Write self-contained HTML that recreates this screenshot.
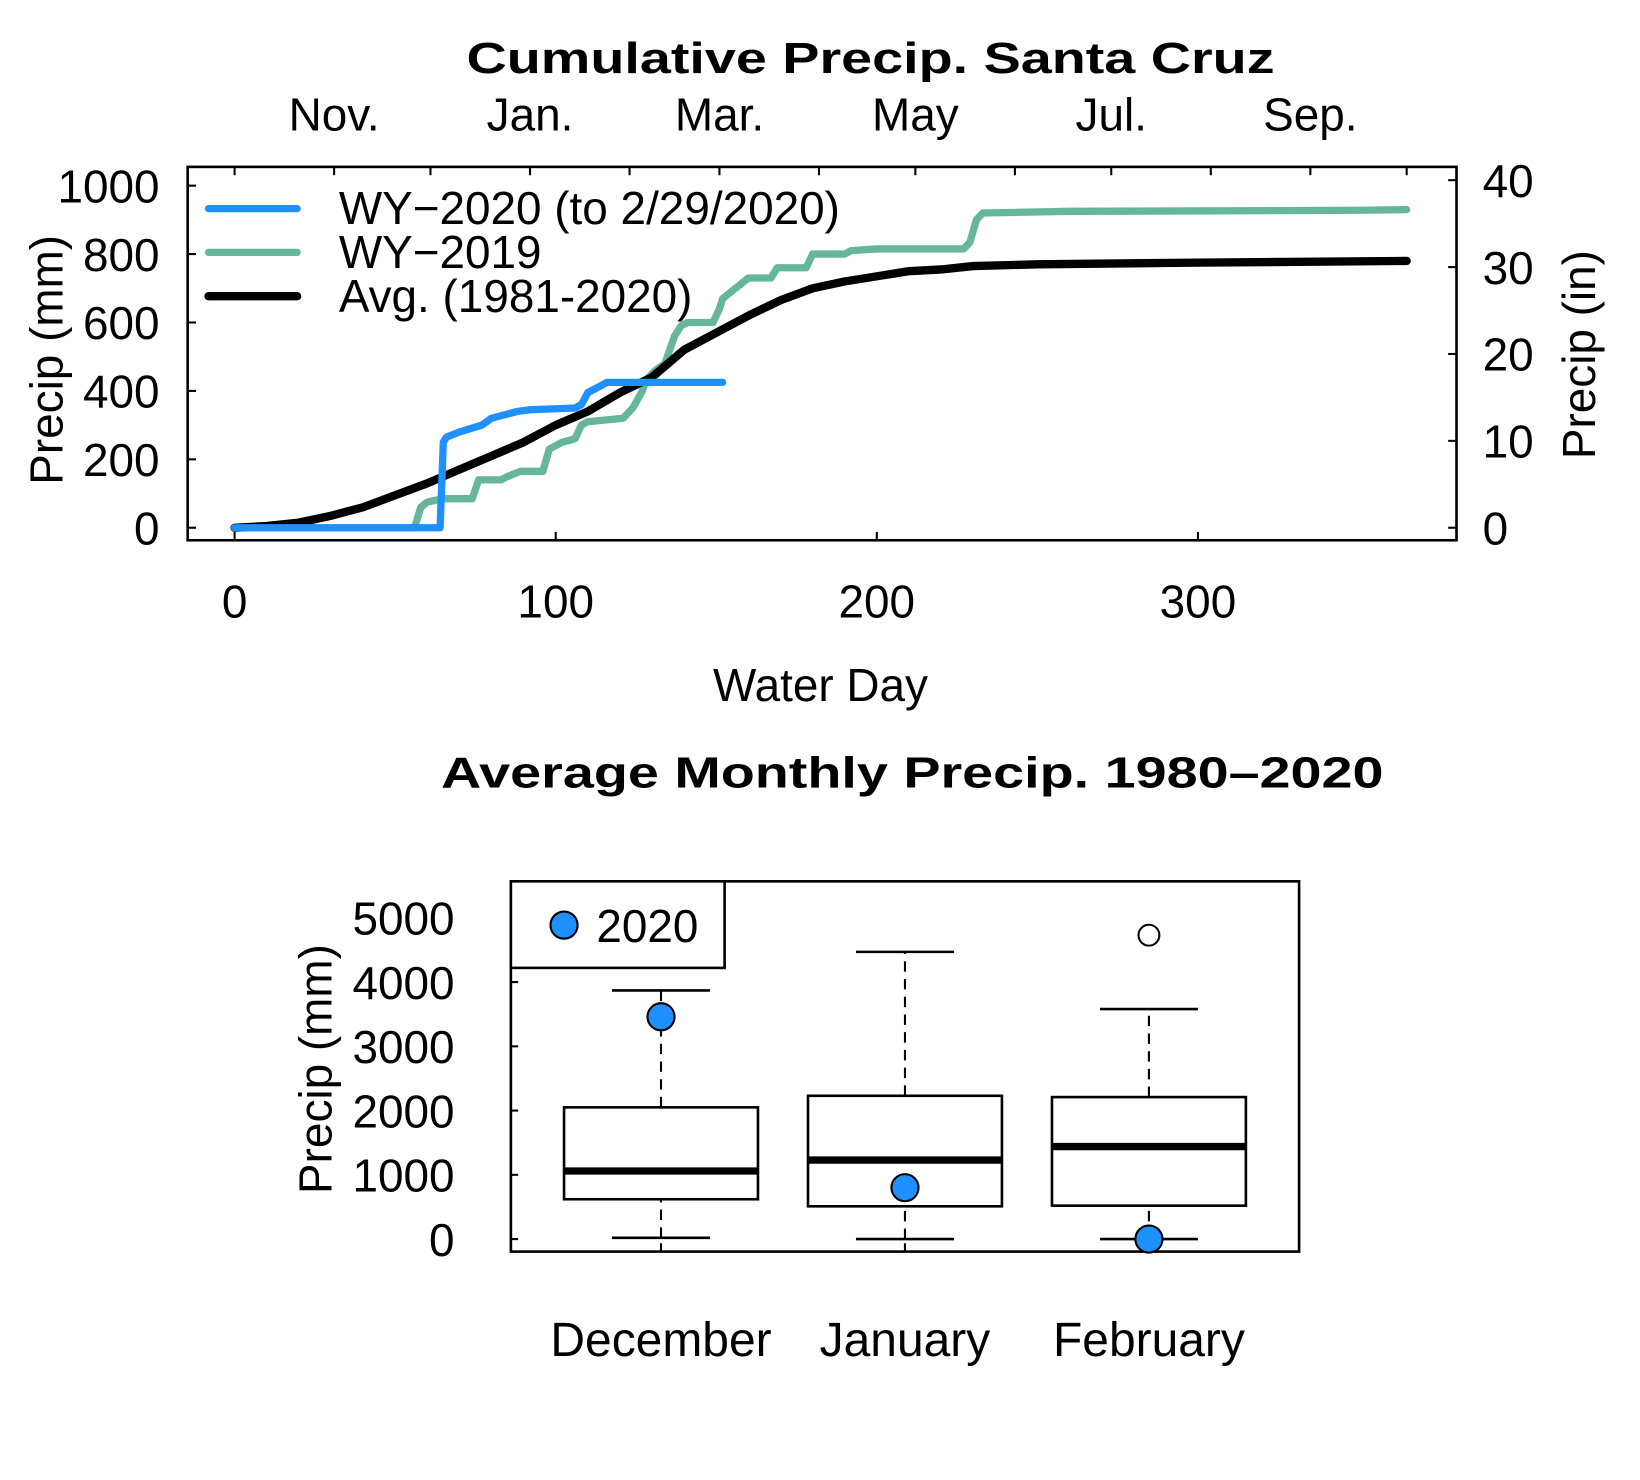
<!DOCTYPE html>
<html><head><meta charset="utf-8"><style>
html,body{margin:0;padding:0;background:#fff}
svg{display:block}
text{font-family:"Liberation Sans",sans-serif;fill:#000}
</style></head><body>
<svg id="svg" width="1640" height="1480" viewBox="0 0 1573 1419" preserveAspectRatio="none" xmlns="http://www.w3.org/2000/svg">
<text x="835" y="70" font-size="42" font-weight="bold" text-anchor="middle" textLength="775" lengthAdjust="spacingAndGlyphs">Cumulative Precip. Santa Cruz</text>
<g id="topChart"></g>
<text x="875" y="755" font-size="42" font-weight="bold" text-anchor="middle" textLength="904" lengthAdjust="spacingAndGlyphs">Average Monthly Precip. 1980–2020</text>
<g id="botChart"></g>
</svg>
<script>
// ---- Top chart data ----
const wy2020Days = [0,64,65,66,70,77,80,84,88,92,106,108,110,113,116,152];
const wy2020Mm   = [0,0,250,265,280,300,320,330,340,345,350,360,395,410,425,425];
const wy2019Days = [0,56,58,60,65,74,76,83,85,89,96,98,102,106,108,110,121,124,127,128,131,134,137,139,141,149,151,152,156,160,167,169,178,180,190,192,200,227,229,231,233,260,350,365];
const wy2019Mm   = [0,0,60,75,85,85,140,140,150,165,165,230,250,260,300,310,320,350,400,430,460,480,560,590,600,600,640,670,700,730,730,760,760,800,800,810,815,815,835,900,920,925,928,930];
const avgDays = [0,10,20,30,40,50,60,70,80,90,100,110,120,130,140,150,160,170,180,190,200,210,220,230,250,300,365];
const avgMm   = [0,5,15,35,60,95,130,170,210,250,300,340,395,440,520,570,620,665,700,720,735,750,755,765,770,775,780];
const xTicks = [0,100,200,300];
const yTicksMm = [0,200,400,600,800,1000];
const yTicksIn = [0,10,20,30,40];
const monthStarts = [0,31,61,92,123,151,182,212,243,273,304,335,365];
const monthLabels = [["Nov.",31],["Jan.",92],["Mar.",151],["May",212],["Jul.",273],["Sep.",335]];
// ---- Bottom chart data ----
const months = ["December","January","February"];
const whiskLo = [20,0,0];
const q1 = [620,510,520];
const med = [1060,1230,1440];
const q3 = [2050,2230,2210];
const whiskHi = [3870,4470,3580];
const outliers = [[],[],[4730]];
const pts2020 = [3460,800,0];
const yTicksB = [0,1000,2000,3000,4000,5000];

const FS=44;
const NS="http://www.w3.org/2000/svg";
function mk(parent,tag,attrs,txt){const e=document.createElementNS(NS,tag);for(const k in attrs)e.setAttribute(k,attrs[k]);if(txt!==undefined)e.textContent=txt;parent.appendChild(e);return e;}

const tg=document.getElementById('topChart');
const X=d=>225+d*3.08, Y=m=>506-m*0.328;
let e;
e=mk(tg,'rect',{x:180,y:160,width:1217,height:358,fill:'none',stroke:'#000','stroke-width':2.5});


monthStarts.forEach(d=>{e=mk(tg,'line',{x1:X(d),x2:X(d),y1:160,y2:168,stroke:'#000','stroke-width':2});

});
monthLabels.forEach(([l,d])=>{e=mk(tg,'text',{x:X(d),y:125,'font-size':FS,'text-anchor':'middle'},l);

});
xTicks.forEach(d=>{e=mk(tg,'line',{x1:X(d),x2:X(d),y1:518,y2:510,stroke:'#000','stroke-width':2});


e=mk(tg,'text',{x:X(d),y:592,'font-size':FS,'text-anchor':'middle'},d);

});
yTicksMm.forEach(v=>{e=mk(tg,'line',{x1:180,x2:188,y1:Y(v),y2:Y(v),stroke:'#000','stroke-width':2});


e=mk(tg,'text',{x:153,y:Y(v)+16,'font-size':FS,'text-anchor':'end'},v);

});
yTicksIn.forEach(v=>{const y=Y(v*25.4);e=mk(tg,'line',{x1:1389,x2:1397,y1:y,y2:y,stroke:'#000','stroke-width':2});


e=mk(tg,'text',{x:1422,y:y+16,'font-size':FS},v);

});
e=mk(tg,'text',{x:0,y:0,'font-size':FS,'text-anchor':'middle',transform:'translate(60,345) rotate(-90)'},'Precip (mm)');


e=mk(tg,'text',{x:0,y:0,'font-size':FS,'text-anchor':'middle',transform:'translate(1530,340) rotate(-90)'},'Precip (in)');


e=mk(tg,'text',{x:787,y:672,'font-size':FS,'text-anchor':'middle'},'Water Day');


function line(days,vals,color,w,name){const p=days.map((d,i)=>X(d)+','+Y(vals[i])).join(' ');
const el=mk(tg,'polyline',{points:p,fill:'none',stroke:color,'stroke-width':w,'stroke-linejoin':'round','stroke-linecap':'round'});

}
line(wy2019Days,wy2019Mm,'#66b799',7,'wy2019-line');
line(avgDays,avgMm,'#000',8,'avg-line');
line(wy2020Days,wy2020Mm,'#1e90ff',7,'wy2020-line');
[['WY−2020 (to 2/29/2020)','#1e90ff',7],['WY−2019','#66b799',7],['Avg. (1981-2020)','#000',8]].forEach(([t,c,w],i)=>{const y=200+i*42;
e=mk(tg,'line',{x1:200,x2:285,y1:y,y2:y,stroke:c,'stroke-width':w,'stroke-linecap':'round'});


e=mk(tg,'text',{x:325,y:y+15,'font-size':FS},t);

});

// ---- bottom ----
const bg=document.getElementById('botChart');
const BX=i=>634+i*234, BY=v=>1188-v*0.0616;
e=mk(bg,'rect',{x:490,y:845,width:756,height:355,fill:'none',stroke:'#000','stroke-width':2.5});


yTicksB.forEach(v=>{e=mk(bg,'line',{x1:490,x2:497,y1:BY(v),y2:BY(v),stroke:'#000','stroke-width':2});


e=mk(bg,'text',{x:436,y:BY(v)+16,'font-size':FS,'text-anchor':'end'},v);

});
e=mk(bg,'text',{x:0,y:0,'font-size':FS,'text-anchor':'middle',transform:'translate(318,1025) rotate(-90)'},'Precip (mm)');


months.forEach((m,i)=>{const x=BX(i);
e=mk(bg,'line',{x1:x,x2:x,y1:BY(whiskLo[i]),y2:BY(q1[i]),stroke:'#000','stroke-width':2,'stroke-dasharray':'10,7'});


e=mk(bg,'line',{x1:x,x2:x,y1:BY(q3[i]),y2:BY(whiskHi[i]),stroke:'#000','stroke-width':2,'stroke-dasharray':'10,7'});


[whiskLo[i],whiskHi[i]].forEach(v=>{e=mk(bg,'line',{x1:x-47,x2:x+47,y1:BY(v),y2:BY(v),stroke:'#000','stroke-width':2.5});

});
e=mk(bg,'rect',{x:x-93,y:BY(q3[i]),width:186,height:BY(q1[i])-BY(q3[i]),fill:'#fff',stroke:'#000','stroke-width':2.5});


e=mk(bg,'line',{x1:x-93,x2:x+93,y1:BY(med[i]),y2:BY(med[i]),stroke:'#000','stroke-width':7});


e=mk(bg,'line',{x1:x,x2:x,y1:1200,y2:1192,stroke:'#000','stroke-width':2});


outliers[i].forEach(v=>{e=mk(bg,'circle',{cx:x,cy:BY(v),r:10,fill:'#fff',stroke:'#000','stroke-width':2});

});
e=mk(bg,'circle',{cx:x,cy:BY(pts2020[i]),r:13,fill:'#1e90ff',stroke:'#000','stroke-width':2});


e=mk(bg,'text',{x:x,y:1300,'font-size':46,'text-anchor':'middle'},m);

});
e=mk(bg,'rect',{x:490,y:845,width:205,height:83,fill:'#fff',stroke:'#000','stroke-width':2.5});


e=mk(bg,'circle',{cx:541,cy:887,r:13,fill:'#1e90ff',stroke:'#000','stroke-width':2});


e=mk(bg,'text',{x:572,y:903,'font-size':FS},'2020');


</script>
</body></html>
